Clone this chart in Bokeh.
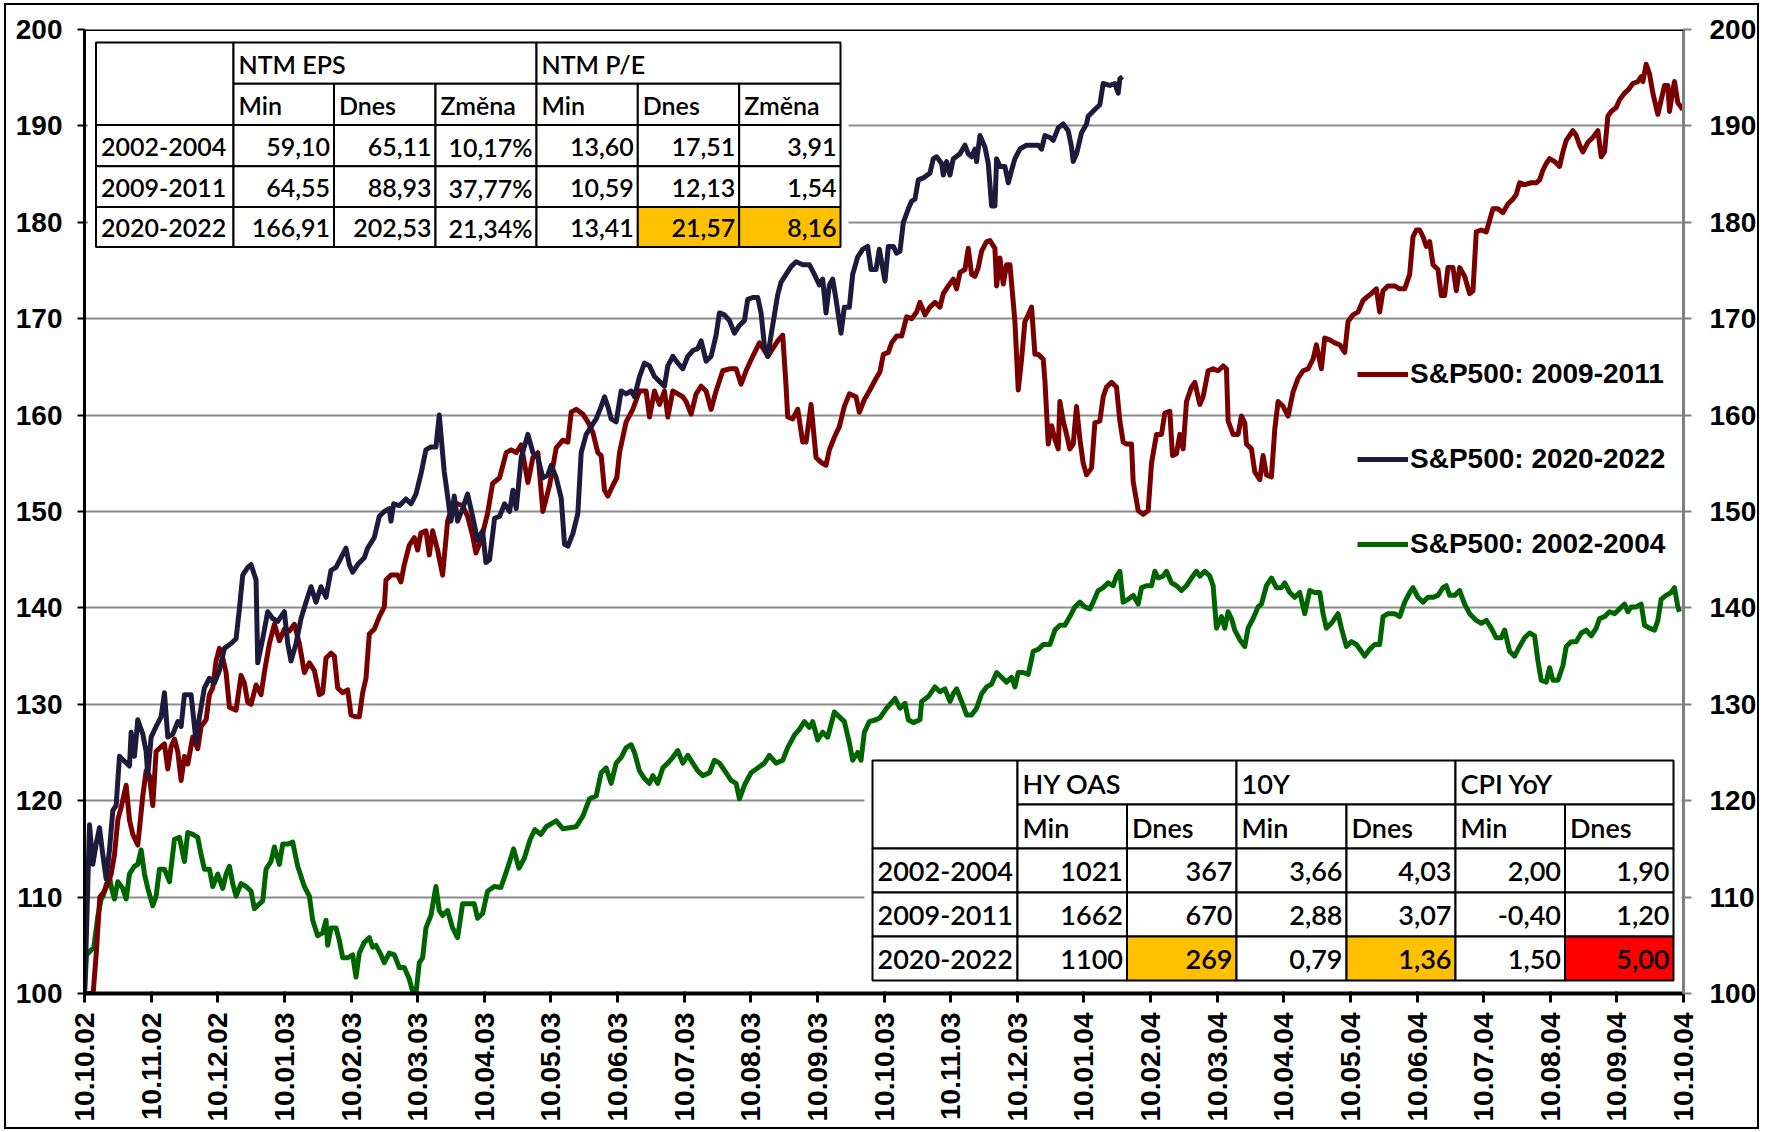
import math
from bokeh.plotting import figure
from bokeh.models import Range1d, LinearAxis, FixedTicker, Legend, LegendItem, Span, InlineStyleSheet
from bokeh.core.properties import value
from bokeh.embed import file_html
from bokeh.resources import INLINE

# ---------------- data ----------------
month_labels = ["10.10.02", "10.11.02", "10.12.02", "10.01.03", "10.02.03", "10.03.03",
                "10.04.03", "10.05.03", "10.06.03", "10.07.03", "10.08.03", "10.09.03",
                "10.10.03", "10.11.03", "10.12.03", "10.01.04", "10.02.04", "10.03.04",
                "10.04.04", "10.05.04", "10.06.04", "10.07.04", "10.08.04", "10.09.04",
                "10.10.04"]
y_ticks = [100, 110, 120, 130, 140, 150, 160, 170, 180, 190, 200]

# (months since start, index value)
sp_2020_2022 = [
    (0.00, 100.0), (0.02, 104.0), (0.075, 117.5), (0.125, 113.4), (0.175, 115.5), (0.225, 117.2),
    (0.275, 114.4), (0.325, 111.9), (0.375, 114.9), (0.425, 119.0), (0.475, 119.5), (0.525, 124.6),
    (0.6, 124.1), (0.675, 123.6), (0.7, 127.1), (0.75, 124.6), (0.8, 128.4), (0.875, 126.9),
    (0.925, 125.1), (0.95, 122.6), (1.0, 126.6), (1.075, 127.7), (1.15, 128.7), (1.2, 131.2),
    (1.25, 126.6), (1.325, 126.9), (1.4, 128.2), (1.45, 127.7), (1.5, 131.0), (1.6, 131.0),
    (1.675, 126.1), (1.725, 128.7), (1.8, 131.7), (1.875, 132.7), (1.95, 132.2), (2.025, 133.5),
    (2.1, 135.8), (2.2, 136.3), (2.275, 136.8), (2.325, 139.9), (2.375, 143.4), (2.45, 144.2),
    (2.5, 144.5), (2.575, 142.9), (2.6, 134.3), (2.675, 136.8), (2.75, 139.6), (2.825, 138.9),
    (2.9, 138.6), (3.0, 139.6), (3.05, 136.3), (3.1, 134.5), (3.175, 136.3), (3.25, 138.9),
    (3.325, 140.6), (3.4, 142.2), (3.475, 140.6), (3.55, 142.2), (3.625, 141.1), (3.7, 143.9),
    (3.775, 144.2), (3.85, 145.2), (3.925, 146.2), (3.975, 144.5), (4.025, 143.7), (4.1, 144.5),
    (4.2, 145.2), (4.25, 146.2), (4.35, 147.3), (4.425, 149.5), (4.5, 150.0), (4.575, 150.3),
    (4.6, 149.0), (4.64, 150.8), (4.725, 150.6), (4.825, 151.3), (4.9, 150.8), (4.975, 151.8),
    (5.05, 153.9), (5.125, 156.4), (5.2, 156.7), (5.275, 156.7), (5.325, 160.0), (5.4, 154.1),
    (5.45, 151.6), (5.5, 149.0), (5.55, 151.6), (5.6, 149.0), (5.675, 150.3), (5.75, 151.8),
    (5.825, 149.5), (5.9, 147.0), (5.975, 148.0), (6.025, 144.7), (6.08, 145.0), (6.155, 149.3),
    (6.23, 149.5), (6.305, 150.8), (6.38, 150.0), (6.43, 152.2), (6.48, 150.3), (6.555, 155.6),
    (6.655, 158.0), (6.73, 156.1), (6.805, 155.6), (6.88, 153.5), (6.955, 153.8), (7.005, 154.8),
    (7.08, 153.5), (7.155, 151.4), (7.205, 146.6), (7.255, 146.4), (7.33, 147.7), (7.405, 149.8),
    (7.455, 156.1), (7.53, 158.0), (7.605, 158.8), (7.68, 159.6), (7.755, 160.9), (7.805, 161.9),
    (7.855, 160.9), (7.905, 159.6), (7.98, 159.3), (8.055, 162.5), (8.13, 162.2), (8.205, 162.5),
    (8.255, 161.9), (8.33, 164.0), (8.405, 165.4), (8.48, 165.1), (8.555, 164.0), (8.63, 163.5),
    (8.705, 163.0), (8.755, 165.1), (8.83, 166.1), (8.905, 165.4), (8.98, 164.8), (9.055, 166.1),
    (9.13, 166.7), (9.205, 166.9), (9.255, 167.7), (9.33, 165.6), (9.405, 166.1), (9.48, 168.3),
    (9.53, 170.6), (9.605, 170.4), (9.68, 169.8), (9.755, 168.5), (9.83, 169.3), (9.905, 169.8),
    (9.955, 172.0), (10.03, 172.2), (10.105, 172.2), (10.155, 170.6), (10.205, 167.2), (10.255, 166.1),
    (10.305, 168.3), (10.355, 170.4), (10.405, 172.5), (10.455, 173.8), (10.53, 174.6), (10.605, 175.4),
    (10.68, 175.9), (10.78, 175.6), (10.88, 175.6), (10.955, 174.6), (11.03, 173.5), (11.08, 174.1),
    (11.13, 170.6), (11.18, 173.5), (11.23, 174.1), (11.28, 172.0), (11.355, 168.5), (11.405, 171.2),
    (11.48, 171.2), (11.53, 174.6), (11.605, 176.4), (11.68, 177.2), (11.755, 177.5), (11.805, 175.1),
    (11.88, 175.1), (11.93, 177.2), (12.015, 173.9), (12.065, 177.5), (12.14, 177.5), (12.19, 176.8),
    (12.24, 177.0), (12.29, 180.0), (12.365, 181.4), (12.415, 182.2), (12.465, 182.4), (12.515, 184.4),
    (12.59, 184.6), (12.69, 185.1), (12.74, 186.6), (12.79, 186.8), (12.865, 186.1), (12.89, 184.9),
    (12.94, 186.3), (12.99, 184.9), (13.04, 186.6), (13.14, 187.1), (13.215, 188.0), (13.265, 187.1),
    (13.315, 186.8), (13.365, 187.6), (13.39, 186.3), (13.44, 189.0), (13.515, 187.8), (13.565, 186.1),
    (13.615, 181.7), (13.665, 181.7), (13.69, 186.6), (13.74, 185.8), (13.815, 185.8), (13.865, 184.1),
    (13.915, 185.4), (13.965, 186.6), (14.04, 187.6), (14.14, 188.0), (14.24, 188.0), (14.315, 188.0),
    (14.365, 187.6), (14.415, 189.0), (14.49, 188.8), (14.54, 188.5), (14.615, 189.8), (14.69, 190.2),
    (14.765, 189.5), (14.815, 187.8), (14.84, 186.3), (14.89, 187.1), (14.965, 189.3), (15.04, 190.2),
    (15.065, 191.0), (15.165, 191.7), (15.24, 192.2), (15.29, 194.4), (15.39, 194.2), (15.465, 194.4),
    (15.515, 193.4), (15.54, 194.9), (15.58, 195.1),
]

sp_2009_2011 = [
    (0.00, 100.0), (0.13, 100.0), (0.18, 104.5), (0.23, 110.0), (0.3, 110.6), (0.35, 111.4),
    (0.4, 112.4), (0.45, 114.4), (0.5, 118.0), (0.55, 119.3), (0.625, 121.6), (0.675, 118.0),
    (0.725, 116.5), (0.8, 115.4), (0.875, 120.5), (0.925, 123.1), (0.975, 122.6), (1.025, 119.5),
    (1.075, 125.1), (1.15, 125.6), (1.2, 125.9), (1.25, 123.3), (1.3, 125.6), (1.35, 126.4),
    (1.4, 125.1), (1.45, 122.1), (1.5, 124.6), (1.55, 123.8), (1.625, 126.6), (1.7, 125.4),
    (1.75, 127.7), (1.825, 128.4), (1.875, 131.0), (1.925, 131.7), (1.975, 134.5), (2.025, 135.8),
    (2.075, 134.8), (2.125, 133.3), (2.175, 129.7), (2.275, 129.4), (2.35, 133.0), (2.4, 132.2),
    (2.45, 130.2), (2.5, 130.0), (2.575, 132.0), (2.65, 131.0), (2.7, 133.3), (2.775, 136.3),
    (2.85, 138.3), (2.925, 136.6), (3.0, 137.8), (3.075, 137.6), (3.15, 138.3), (3.225, 136.3),
    (3.3, 133.3), (3.375, 134.3), (3.45, 133.5), (3.525, 131.0), (3.575, 131.2), (3.625, 134.8),
    (3.7, 135.3), (3.75, 135.0), (3.8, 131.7), (3.875, 131.2), (3.95, 131.5), (4.0, 128.9),
    (4.075, 128.7), (4.125, 128.7), (4.175, 131.2), (4.225, 132.7), (4.275, 137.3), (4.35, 137.8),
    (4.425, 139.1), (4.5, 140.1), (4.525, 142.9), (4.6, 143.4), (4.7, 143.4), (4.75, 142.7),
    (4.8, 144.5), (4.875, 146.5), (4.95, 147.3), (5.0, 146.0), (5.05, 147.8), (5.125, 148.0),
    (5.175, 145.5), (5.225, 148.0), (5.3, 146.0), (5.375, 143.4), (5.45, 149.0), (5.525, 150.6),
    (5.6, 150.8), (5.675, 150.6), (5.75, 149.5), (5.825, 147.5), (5.875, 145.7), (5.95, 147.0),
    (6.05, 149.8), (6.125, 152.9), (6.23, 153.5), (6.33, 156.1), (6.405, 156.4), (6.48, 156.1),
    (6.555, 156.9), (6.655, 153.0), (6.73, 155.6), (6.805, 156.1), (6.88, 150.0), (6.98, 152.7),
    (7.08, 156.6), (7.18, 157.4), (7.255, 157.2), (7.305, 160.3), (7.38, 160.6), (7.48, 160.1),
    (7.555, 159.3), (7.63, 158.2), (7.705, 156.1), (7.755, 155.8), (7.805, 152.2), (7.855, 151.6),
    (7.93, 152.7), (7.99, 153.5), (8.03, 156.1), (8.13, 159.3), (8.23, 160.6), (8.33, 162.5),
    (8.43, 162.5), (8.48, 159.8), (8.555, 162.5), (8.63, 161.1), (8.705, 162.5), (8.755, 159.8),
    (8.83, 162.5), (8.905, 162.2), (8.98, 161.9), (9.03, 161.4), (9.105, 160.1), (9.18, 162.2),
    (9.255, 163.0), (9.33, 162.5), (9.405, 160.6), (9.48, 162.5), (9.58, 164.6), (9.68, 164.8),
    (9.78, 164.8), (9.855, 163.2), (9.93, 164.6), (10.03, 166.1), (10.13, 167.5), (10.205, 166.7),
    (10.255, 166.1), (10.33, 166.9), (10.405, 167.7), (10.48, 168.3), (10.53, 163.0), (10.555, 159.8),
    (10.63, 159.6), (10.705, 160.6), (10.78, 157.2), (10.83, 157.2), (10.905, 161.1), (10.98, 155.6),
    (11.055, 155.1), (11.13, 154.8), (11.18, 156.4), (11.255, 157.7), (11.33, 158.8), (11.405, 160.9),
    (11.48, 162.2), (11.58, 161.9), (11.63, 160.3), (11.705, 161.6), (11.78, 162.5), (11.88, 163.8),
    (11.94, 164.5), (11.99, 166.3), (12.065, 166.5), (12.115, 167.5), (12.19, 168.2), (12.265, 168.2),
    (12.34, 170.2), (12.415, 170.0), (12.49, 170.7), (12.54, 171.7), (12.615, 170.4), (12.69, 171.2),
    (12.765, 171.7), (12.84, 171.2), (12.89, 172.6), (12.965, 173.4), (13.04, 174.1), (13.09, 173.1),
    (13.14, 174.8), (13.215, 175.1), (13.265, 177.3), (13.315, 174.6), (13.365, 174.4), (13.415, 175.3),
    (13.465, 177.0), (13.54, 178.0), (13.59, 178.1), (13.665, 177.3), (13.69, 173.4), (13.74, 176.3),
    (13.79, 173.6), (13.84, 175.6), (13.89, 175.6), (13.94, 171.7), (13.965, 169.7), (14.015, 162.6),
    (14.065, 165.8), (14.115, 169.7), (14.165, 170.4), (14.215, 171.2), (14.265, 166.3), (14.315, 166.3),
    (14.39, 165.8), (14.415, 163.6), (14.465, 157.0), (14.515, 158.9), (14.565, 157.5), (14.615, 156.5),
    (14.64, 161.4), (14.69, 159.4), (14.74, 158.0), (14.79, 156.5), (14.84, 157.0), (14.89, 160.9),
    (14.94, 157.5), (14.99, 155.0), (15.04, 153.8), (15.115, 154.5), (15.165, 159.2), (15.24, 159.4),
    (15.29, 161.9), (15.34, 162.9), (15.415, 163.4), (15.49, 162.9), (15.54, 159.4), (15.59, 157.2),
    (15.64, 157.0), (15.715, 157.0), (15.74, 153.1), (15.815, 150.1), (15.89, 149.7), (15.965, 150.1),
    (16.015, 155.0), (16.09, 158.0), (16.165, 158.0), (16.215, 160.2), (16.29, 160.4), (16.33, 155.8),
    (16.39, 156.0), (16.44, 158.0), (16.49, 156.5), (16.54, 161.4), (16.615, 162.9), (16.665, 163.4),
    (16.74, 161.1), (16.79, 161.9), (16.865, 164.6), (16.94, 164.8), (17.015, 164.6), (17.09, 165.1),
    (17.14, 164.8), (17.165, 159.4), (17.24, 158.0), (17.315, 158.0), (17.365, 159.9), (17.415, 159.2),
    (17.44, 157.0), (17.515, 156.5), (17.565, 154.1), (17.64, 153.3), (17.69, 155.8), (17.74, 153.8),
    (17.815, 153.6), (17.865, 158.5), (17.915, 161.4), (17.99, 160.9), (18.065, 159.9), (18.14, 162.4),
    (18.215, 163.8), (18.29, 164.6), (18.365, 164.8), (18.44, 165.8), (18.49, 167.3), (18.565, 164.8),
    (18.615, 168.0), (18.69, 167.8), (18.765, 167.5), (18.84, 167.3), (18.915, 166.5), (18.965, 169.7),
    (19.04, 170.4), (19.115, 170.7), (19.19, 171.9), (19.24, 172.2), (19.315, 172.6), (19.39, 173.1),
    (19.44, 170.7), (19.49, 172.9), (19.565, 173.4), (19.665, 173.4), (19.74, 173.1), (19.815, 173.1),
    (19.89, 174.6), (19.94, 178.5), (19.99, 179.2), (20.04, 179.2), (20.09, 178.5), (20.14, 177.5),
    (20.19, 178.0), (20.24, 175.6), (20.315, 175.1), (20.365, 172.4), (20.415, 172.4), (20.465, 175.3),
    (20.54, 175.3), (20.59, 172.9), (20.64, 175.3), (20.715, 174.4), (20.79, 172.6), (20.84, 172.9),
    (20.89, 179.0), (20.965, 179.2), (21.04, 179.0), (21.09, 180.2), (21.14, 181.4), (21.215, 181.4),
    (21.29, 181.0), (21.365, 181.9), (21.44, 182.4), (21.49, 182.9), (21.54, 184.1), (21.615, 183.9),
    (21.715, 184.1), (21.79, 184.1), (21.84, 184.4), (21.89, 185.4), (21.94, 186.1), (21.99, 186.6),
    (22.065, 186.3), (22.14, 185.8), (22.19, 187.3), (22.24, 188.5), (22.29, 189.0), (22.34, 189.5),
    (22.39, 189.0), (22.44, 188.0), (22.49, 187.3), (22.565, 188.3), (22.64, 188.8), (22.715, 189.5),
    (22.765, 186.8), (22.815, 187.3), (22.865, 191.0), (22.915, 191.5), (22.99, 191.9), (23.04, 192.7),
    (23.115, 193.4), (23.165, 193.7), (23.24, 194.4), (23.315, 194.6), (23.365, 195.1), (23.39, 194.6),
    (23.44, 196.4), (23.49, 195.4), (23.54, 193.4), (23.615, 191.2), (23.665, 192.7), (23.715, 194.2),
    (23.765, 194.2), (23.79, 191.5), (23.84, 193.7), (23.865, 194.6), (23.915, 192.4), (23.99, 191.7),
]

sp_2002_2004 = [
    (0.00, 100.0), (0.03, 104.0), (0.14, 104.8), (0.2, 108.0), (0.25, 109.8), (0.28, 110.1),
    (0.33, 111.4), (0.38, 111.9), (0.4, 111.1), (0.45, 109.8), (0.5, 111.6), (0.575, 110.9),
    (0.625, 109.8), (0.675, 112.4), (0.75, 113.2), (0.8, 113.4), (0.85, 114.9), (0.9, 112.4),
    (0.95, 110.9), (1.025, 109.1), (1.075, 110.1), (1.125, 112.9), (1.2, 112.9), (1.275, 111.6),
    (1.35, 116.0), (1.425, 116.2), (1.5, 113.7), (1.55, 116.7), (1.625, 116.5), (1.7, 116.2),
    (1.75, 114.4), (1.8, 112.9), (1.875, 112.9), (1.925, 111.1), (2.0, 112.4), (2.075, 110.9),
    (2.125, 112.4), (2.175, 113.2), (2.225, 111.4), (2.275, 110.1), (2.35, 111.4), (2.425, 111.1),
    (2.5, 110.6), (2.55, 108.8), (2.625, 109.3), (2.675, 109.6), (2.725, 112.9), (2.8, 113.7),
    (2.85, 115.2), (2.925, 113.4), (2.975, 115.5), (3.05, 115.5), (3.125, 115.7), (3.2, 113.2),
    (3.3, 111.1), (3.375, 110.1), (3.425, 107.6), (3.5, 106.0), (3.575, 106.3), (3.625, 107.6),
    (3.65, 105.0), (3.7, 106.8), (3.775, 106.8), (3.825, 105.5), (3.875, 103.7), (3.95, 103.7),
    (4.025, 104.0), (4.075, 101.7), (4.125, 104.2), (4.2, 105.3), (4.275, 105.8), (4.325, 104.8),
    (4.375, 105.0), (4.45, 104.0), (4.5, 103.2), (4.575, 104.2), (4.65, 104.0), (4.725, 102.7),
    (4.8, 102.7), (4.875, 101.5), (4.925, 100.2), (4.975, 100.0), (5.025, 103.2), (5.075, 103.7),
    (5.125, 106.8), (5.2, 108.1), (5.275, 111.1), (5.325, 108.6), (5.375, 108.1), (5.45, 108.6),
    (5.525, 106.8), (5.6, 105.8), (5.675, 109.3), (5.75, 109.3), (5.85, 109.3), (5.9, 107.8),
    (5.975, 108.3), (6.05, 110.6), (6.15, 111.1), (6.25, 111.0), (6.35, 113.0), (6.44, 115.0),
    (6.52, 113.0), (6.6, 114.0), (6.69, 116.0), (6.76, 117.0), (6.85, 116.5), (6.93, 117.3),
    (7.08, 117.9), (7.18, 117.1), (7.38, 117.3), (7.48, 118.4), (7.58, 120.2), (7.68, 120.5),
    (7.755, 122.9), (7.83, 123.4), (7.905, 121.8), (7.98, 123.9), (8.055, 124.5), (8.13, 125.5),
    (8.205, 125.8), (8.255, 125.0), (8.33, 123.1), (8.405, 122.3), (8.48, 121.8), (8.53, 122.6),
    (8.605, 121.8), (8.68, 123.4), (8.755, 123.9), (8.83, 124.5), (8.905, 125.2), (8.98, 123.9),
    (9.055, 124.7), (9.13, 123.9), (9.205, 123.1), (9.28, 122.6), (9.38, 122.9), (9.455, 124.2),
    (9.53, 123.9), (9.63, 122.9), (9.705, 122.1), (9.78, 121.8), (9.83, 120.2), (9.905, 121.6),
    (10.005, 122.9), (10.105, 123.4), (10.205, 123.9), (10.28, 124.7), (10.38, 123.9), (10.48, 124.2),
    (10.555, 125.5), (10.655, 126.8), (10.73, 127.4), (10.805, 128.2), (10.88, 127.6), (10.93, 128.2),
    (11.005, 126.3), (11.08, 127.1), (11.155, 126.6), (11.255, 129.2), (11.33, 128.7), (11.405, 128.2),
    (11.48, 126.0), (11.53, 124.2), (11.605, 125.0), (11.655, 124.2), (11.705, 127.1), (11.78, 128.2),
    (11.88, 128.4), (11.94, 128.6), (12.04, 129.6), (12.165, 130.6), (12.24, 129.6), (12.315, 130.1),
    (12.365, 128.4), (12.44, 128.1), (12.54, 128.4), (12.565, 130.3), (12.665, 130.8), (12.765, 131.8),
    (12.84, 131.3), (12.915, 131.6), (12.99, 130.3), (13.04, 131.1), (13.09, 131.6), (13.165, 130.3),
    (13.24, 128.9), (13.315, 128.9), (13.39, 129.6), (13.465, 131.1), (13.54, 131.8), (13.615, 132.1),
    (13.69, 133.3), (13.765, 132.8), (13.84, 132.3), (13.915, 132.8), (13.965, 131.8), (14.015, 133.3),
    (14.09, 133.3), (14.165, 133.1), (14.24, 135.5), (14.315, 135.7), (14.39, 136.2), (14.49, 136.2),
    (14.565, 137.7), (14.64, 138.2), (14.715, 138.2), (14.79, 139.1), (14.865, 140.1), (14.94, 140.6),
    (15.015, 140.1), (15.09, 139.9), (15.14, 140.6), (15.215, 141.8), (15.29, 142.1), (15.365, 142.6),
    (15.44, 142.3), (15.49, 143.3), (15.54, 143.8), (15.59, 140.6), (15.665, 140.9), (15.74, 141.3),
    (15.815, 140.4), (15.865, 142.1), (15.94, 142.3), (16.015, 142.3), (16.065, 143.8), (16.115, 143.1),
    (16.19, 143.3), (16.24, 143.8), (16.315, 142.6), (16.39, 142.3), (16.465, 141.8), (16.54, 142.3),
    (16.615, 143.1), (16.69, 143.8), (16.74, 143.3), (16.815, 143.8), (16.89, 143.3), (16.94, 142.3),
    (16.99, 137.9), (17.065, 139.1), (17.115, 137.9), (17.165, 139.6), (17.215, 138.9), (17.265, 137.7),
    (17.34, 136.7), (17.415, 136.0), (17.465, 137.9), (17.54, 138.9), (17.615, 140.1), (17.665, 140.4),
    (17.74, 142.3), (17.815, 143.1), (17.89, 142.1), (17.965, 142.1), (18.015, 142.6), (18.09, 141.6),
    (18.165, 141.1), (18.24, 141.6), (18.315, 139.4), (18.39, 141.8), (18.465, 141.6), (18.54, 141.6),
    (18.59, 139.4), (18.64, 137.9), (18.715, 138.4), (18.815, 139.4), (18.865, 137.9), (18.94, 136.0),
    (19.015, 136.5), (19.09, 136.2), (19.165, 135.5), (19.215, 135.0), (19.29, 135.7), (19.365, 136.2),
    (19.44, 136.2), (19.49, 139.1), (19.565, 139.4), (19.665, 139.4), (19.74, 139.1), (19.815, 140.6),
    (19.89, 141.6), (19.94, 142.1), (20.015, 141.1), (20.09, 140.6), (20.165, 141.1), (20.24, 141.1),
    (20.315, 141.3), (20.39, 142.1), (20.44, 142.3), (20.49, 141.3), (20.565, 141.3), (20.64, 141.8),
    (20.715, 140.4), (20.79, 139.4), (20.89, 138.7), (20.965, 138.4), (21.04, 138.7), (21.115, 137.9),
    (21.19, 136.9), (21.265, 136.9), (21.315, 137.7), (21.39, 135.5), (21.465, 135.0), (21.54, 136.0),
    (21.615, 136.9), (21.69, 137.4), (21.765, 137.1), (21.815, 134.5), (21.865, 132.5), (21.94, 132.3),
    (21.99, 133.8), (22.04, 132.5), (22.115, 132.5), (22.19, 134.0), (22.24, 136.0), (22.315, 136.5),
    (22.39, 136.5), (22.465, 137.4), (22.54, 137.7), (22.615, 137.1), (22.69, 137.9), (22.74, 138.9),
    (22.815, 139.1), (22.89, 139.6), (22.965, 139.4), (23.04, 139.9), (23.115, 140.4), (23.165, 139.6),
    (23.215, 140.1), (23.29, 140.1), (23.365, 140.4), (23.415, 138.2), (23.49, 137.9), (23.565, 137.7),
    (23.615, 138.7), (23.665, 140.9), (23.74, 141.3), (23.815, 141.6), (23.865, 142.1), (23.915, 140.1),
    (23.94, 139.6),
]

series_labels = ["S&P500: 2009-2011", "S&P500: 2020-2022", "S&P500: 2002-2004"]

# tables
periods = ["2002-2004", "2009-2011", "2020-2022"]
eps_min = ["59,10", "64,55", "166,91"]
eps_dnes = ["65,11", "88,93", "202,53"]
eps_zmena = ["10,17%", "37,77%", "21,34%"]
pe_min = ["13,60", "10,59", "13,41"]
pe_dnes = ["17,51", "12,13", "21,57"]
pe_zmena = ["3,91", "1,54", "8,16"]

hy_min = ["1021", "1662", "1100"]
hy_dnes = ["367", "670", "269"]
y10_min = ["3,66", "2,88", "0,79"]
y10_dnes = ["4,03", "3,07", "1,36"]
cpi_min = ["2,00", "-0,40", "1,50"]
cpi_dnes = ["1,90", "1,20", "5,00"]

# ---------------- figure ----------------
W, H = 1766, 1132
frame_css = InlineStyleSheet(css="""
:host { position: relative; }
:host::after {
  content: ""; position: absolute; left: 4px; top: 3px; right: 7px; bottom: 3px;
  border: 2px solid black; pointer-events: none; z-index: 1000;
}
""")
p = figure(width=W, height=H, x_range=Range1d(0, 24), y_range=Range1d(100, 200),
           output_backend="svg", toolbar_location=None,
           min_border_left=84, min_border_right=83, min_border_top=29, min_border_bottom=139,
           background_fill_color="white", border_fill_color="white", outline_line_color=None,
           stylesheets=[frame_css])

TICK_FONT = "Liberation Sans"

p.xaxis.ticker = FixedTicker(ticks=list(range(len(month_labels))))
p.xaxis.major_label_overrides = {i: s for i, s in enumerate(month_labels)}
p.xaxis.major_label_orientation = math.pi / 2
p.xaxis.axis_line_color = "black"
p.xaxis.axis_line_width = 4
p.xaxis.major_tick_line_color = "black"
p.xaxis.major_tick_line_width = 3
p.xaxis.major_tick_out = 9
p.xaxis.major_tick_in = 2
p.xaxis.minor_tick_line_color = None
p.xaxis.major_label_standoff = 10
p.xaxis.major_label_text_font = TICK_FONT
p.xaxis.major_label_text_font_style = "bold"
p.xaxis.major_label_text_font_size = "28px"
p.xaxis.major_label_text_color = "black"

p.yaxis.ticker = FixedTicker(ticks=y_ticks)
p.yaxis.axis_line_color = "black"
p.yaxis.axis_line_width = 3
p.yaxis.major_tick_line_color = "black"
p.yaxis.major_tick_line_width = 2
p.yaxis.major_tick_out = 7
p.yaxis.major_tick_in = 0
p.yaxis.minor_tick_line_color = None
p.yaxis.major_label_standoff = 15
p.yaxis.major_label_text_font = TICK_FONT
p.yaxis.major_label_text_font_style = "bold"
p.yaxis.major_label_text_font_size = "28px"
p.yaxis.major_label_text_color = "black"

ax_r = LinearAxis(ticker=FixedTicker(ticks=y_ticks))
ax_r.axis_line_color = "#808080"
ax_r.axis_line_width = 3
ax_r.major_tick_line_color = "#808080"
ax_r.major_tick_line_width = 2
ax_r.major_tick_out = 8
ax_r.major_tick_in = 0
ax_r.minor_tick_line_color = None
ax_r.major_label_standoff = 18
ax_r.major_label_text_font = TICK_FONT
ax_r.major_label_text_font_style = "bold"
ax_r.major_label_text_font_size = "28px"
ax_r.major_label_text_color = "black"
p.add_layout(ax_r, "right")

p.xgrid.grid_line_color = None
p.ygrid.ticker = FixedTicker(ticks=y_ticks[1:-1])
p.ygrid.grid_line_color = "#8c8c8c"
p.ygrid.grid_line_width = 2

p.add_layout(Span(location=200, dimension="width", line_color="black", line_width=3))

# ---------------- series ----------------
def split(pairs):
    return [a for a, b in pairs], [b for a, b in pairs]

colors = {"2009": "#7a0000", "2020": "#1d1a3c", "2002": "#006400"}
xr, yr = split(sp_2009_2011)
xn, yn = split(sp_2020_2022)
xg, yg = split(sp_2002_2004)
LW = 5
r_green = p.line(xg, yg, line_color=colors["2002"], line_width=LW, line_join="round")
r_red = p.line(xr, yr, line_color=colors["2009"], line_width=LW, line_join="round")
r_navy = p.line(xn, yn, line_color=colors["2020"], line_width=LW, line_join="round")

# ---------------- tables ----------------
FL, FR, FT, FB = 84.0, 1683.0, 29.0, 993.0   # plot frame on the page (px)
TABLE_FONT = "'Lato Semibold', Lato"


def X(px):
    return (px - FL) / (FR - FL) * 24.0


def Y(py):
    return 100.0 + (FB - py) / (FB - FT) * 100.0


def add_table(cols, rows, cells, font_px):
    pad = 8
    p.quad(left=[X(cols[0] - pad)], right=[X(cols[-1] + pad)],
           top=[Y(rows[0] - pad)], bottom=[Y(rows[-1] + pad)],
           fill_color="white", line_color=None)
    L, R, T, B, F = [], [], [], [], []
    txt = {"left": ([], [], []), "right": ([], [], [])}
    for (c0, c1, r0, r1, text, align, fill) in cells:
        L.append(X(cols[c0])); R.append(X(cols[c1]))
        T.append(Y(rows[r0])); B.append(Y(rows[r1])); F.append(fill)
        if text:
            xs, ys, ts = txt[align]
            xs.append(X(cols[c0] + 5) if align == "left" else X(cols[c1] - 4))
            ys.append(Y((rows[r0] + rows[r1]) / 2.0 + 1))
            ts.append(text)
    p.quad(left=L, right=R, top=T, bottom=B, fill_color=F, line_color="black", line_width=2)
    for align, (xs, ys, ts) in txt.items():
        if xs:
            p.text(x=xs, y=ys, text=ts, text_align=align, text_baseline="middle",
                   text_font=value(TABLE_FONT), text_font_size=value(f"{font_px}px"),
                   text_color="black")


ORANGE, RED = "#ffc000", "#ff0000"

top_cols = [95.5, 233, 333.5, 435, 536, 637.3, 738.7, 840]
top_rows = [42, 83.2, 124.5, 165.7, 206.4, 246.5]
top_cells = [(0, 1, 0, 2, "", "left", "white"),
             (1, 4, 0, 1, "NTM EPS", "left", "white"),
             (4, 7, 0, 1, "NTM P/E", "left", "white")]
for i, h in enumerate(["Min", "Dnes", "Změna", "Min", "Dnes", "Změna"]):
    top_cells.append((1 + i, 2 + i, 1, 2, h, "left", "white"))
for r, per in enumerate(periods):
    vals = [eps_min[r], eps_dnes[r], eps_zmena[r], pe_min[r], pe_dnes[r], pe_zmena[r]]
    top_cells.append((0, 1, 2 + r, 3 + r, per, "left", "white"))
    for c, v in enumerate(vals):
        fill = ORANGE if (r == 2 and c in (4, 5)) else "white"
        top_cells.append((1 + c, 2 + c, 2 + r, 3 + r, v, "right", fill))
add_table(top_cols, top_rows, top_cells, 25)

bot_cols = [872, 1017, 1126.5, 1236, 1346, 1455, 1564.5, 1673]
bot_rows = [760, 804, 848, 892, 936, 980]
bot_cells = [(0, 1, 0, 2, "", "left", "white"),
             (1, 3, 0, 1, "HY OAS", "left", "white"),
             (3, 5, 0, 1, "10Y", "left", "white"),
             (5, 7, 0, 1, "CPI YoY", "left", "white")]
for i, h in enumerate(["Min", "Dnes", "Min", "Dnes", "Min", "Dnes"]):
    bot_cells.append((1 + i, 2 + i, 1, 2, h, "left", "white"))
for r, per in enumerate(periods):
    vals = [hy_min[r], hy_dnes[r], y10_min[r], y10_dnes[r], cpi_min[r], cpi_dnes[r]]
    bot_cells.append((0, 1, 2 + r, 3 + r, per, "left", "white"))
    for c, v in enumerate(vals):
        fill = "white"
        if r == 2 and c in (1, 3):
            fill = ORANGE
        if r == 2 and c == 5:
            fill = RED
        bot_cells.append((1 + c, 2 + c, 2 + r, 3 + r, v, "right", fill))
add_table(bot_cols, bot_rows, bot_cells, 27)

# ---------------- legend ----------------
legend = Legend(items=[LegendItem(label=series_labels[0], renderers=[r_red]),
                       LegendItem(label=series_labels[1], renderers=[r_navy]),
                       LegendItem(label=series_labels[2], renderers=[r_green])],
                location=(1273, 433), orientation="vertical",
                background_fill_alpha=0, border_line_alpha=0,
                padding=0, margin=0, spacing=53,
                glyph_width=51, glyph_height=32, label_height=32, label_standoff=2,
                label_text_font=TICK_FONT, label_text_font_style="bold",
                label_text_font_size="28px", label_text_color="black")
p.add_layout(legend)

open("out.html", "w").write(file_html(p, INLINE))
